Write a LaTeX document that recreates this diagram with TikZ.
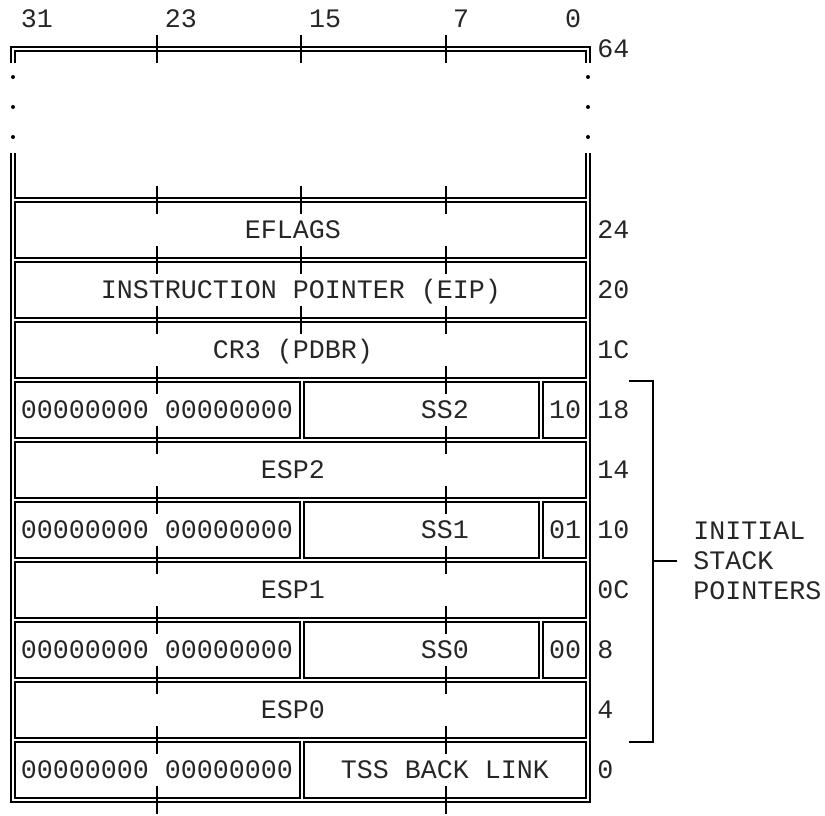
\documentclass[tikz,border=0pt]{standalone}
\usepackage{fontspec}
\setmonofont{Liberation Mono}
\usetikzlibrary{calc}

\begin{document}
\begin{tikzpicture}[x=.75pt,y=-.75pt,font=\ttfamily\fontsize{20}{22.5}\selectfont,
    dbl/.style={double,line width=1.1pt,double distance=1.7pt},
    tick/.style={line width=1.2pt},
    txt/.style={inner sep=0pt,text height=13pt,text depth=0pt,text=black!85},
    off/.style={txt,anchor=west}]
  \useasboundingbox (0,0) rectangle (825,815);
  % bit positions
  \foreach \b/\x in {31/37,23/181,15/325,7/461,0/573}
    \node[txt] (bit\b) at (\x,19) {\b};
  % frame
  \draw[dbl] (13,63) -- (13,49) -- (588,49) -- (588,63);
  \foreach \y in {77,107,137}{
    \fill (13,\y) circle (2);
    \fill (588,\y) circle (2);}
  \draw[dbl] (13,153) -- (13,800) -- (588,800) -- (588,153);
  \foreach \y in {200,260,...,740}
    \draw[dbl] (14.2,\y) -- (586.8,\y);
  \foreach \y in {380,500,620,740}
    \draw[dbl] (302,\y+1.2) -- (302,\y+58.8);
  \foreach \y in {380,500,620}
    \draw[dbl] (541,\y+1.2) -- (541,\y+58.8);
  % ticks
  \foreach \y in {49,200,260,...,800}{
    \draw[tick] (157,\y-14) -- (157,\y+14);
    \draw[tick] (446,\y-14) -- (446,\y+14);}
  \foreach \y in {49,200,260,320}
    \draw[tick] (301,\y-14) -- (301,\y+14);
  % fields
  \node[txt] (eflags) at (293,230) {EFLAGS};
  \node[txt] (eip) at (301,290) {INSTRUCTION POINTER (EIP)};
  \node[txt] (cr3) at (293,350) {CR3 (PDBR)};
  \foreach \n/\y/\r in {2/410/10,1/530/01,0/650/00}{
    \node[txt] (zero\n) at (157,\y) {00000000 00000000};
    \node[txt] (ss\n) at (445,\y) {SS\n};
    \node[txt] (rpl\n) at (565,\y) {\r};
    \node[txt] (esp\n) at (293,\y+60) {ESP\n};}
  \node[txt] (zerolink) at (157,770) {00000000 00000000};
  \node[txt] (link) at (445,770) {TSS BACK LINK};
  % offsets
  \node[off] (off64) at (597,49) {64};
  \foreach \o [count=\i from 0] in {24,20,1C,18,14,10,0C,8,4,0}
    \node[off] (off\o) at (597,230+60*\i) {\o};
  % stack pointer bracket
  \node[inner sep=0pt,anchor=west,align=left,text=black!85] (sp) at (693,561) {INITIAL\\STACK\\POINTERS};
  \coordinate (brtop) at (629,381);
  \coordinate (brbot) at (629,742);
  \coordinate (brmid) at (653,561);
  \draw[tick] (brtop) -- ++(24,0) |- (brbot);
  \draw[tick] (brmid) -- ([xshift=-12pt]sp.west);
\end{tikzpicture}
\end{document}
